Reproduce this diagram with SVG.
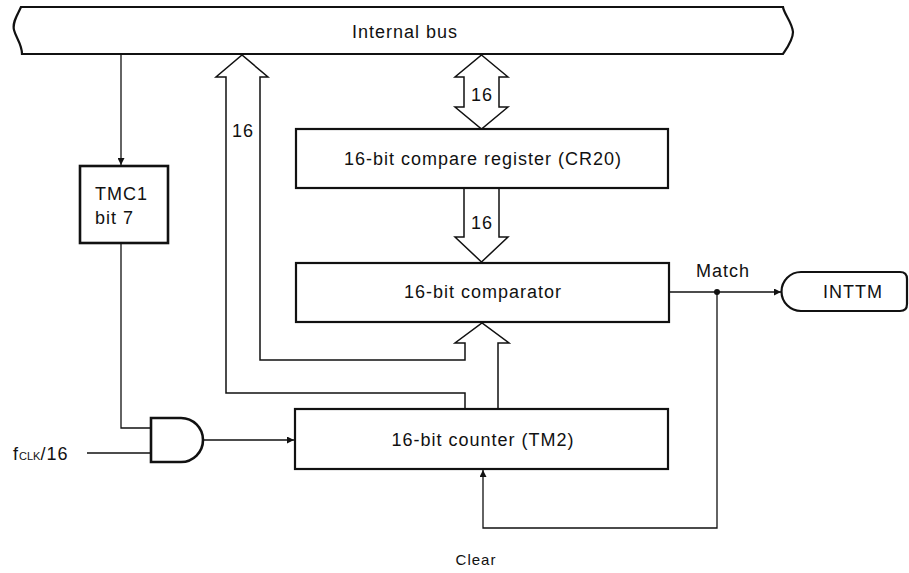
<svg xmlns="http://www.w3.org/2000/svg" width="909" height="573" viewBox="0 0 909 573">
<defs>
<style>
text{font-family:"Liberation Sans",Arial,sans-serif;font-size:18px;fill:#111;letter-spacing:1px}
.c{text-anchor:middle}
.box{fill:#fff;stroke:#111;stroke-width:2.2}
.wire{fill:none;stroke:#111;stroke-width:1.3}
.hollow{fill:#fff;stroke:#111;stroke-width:1.5;stroke-linejoin:miter}
</style>
<marker id="ah" viewBox="0 0 10 10" refX="10" refY="5" markerWidth="9" markerHeight="7" markerUnits="userSpaceOnUse" orient="auto">
<path d="M0,0 L10,5 L0,10 Z" fill="#111"/>
</marker>
</defs>

<g id="bus">
<path class="box" d="M21,7 H783 C784,14 792,22 793,32 C793,40 787,48 783,54 H22 C22,44 16,38 14,30 C12,22 18,14 21,7 Z"/>
<text class="c" x="405" y="38">Internal bus</text>
</g>

<g id="connectors">
<path class="wire" d="M121,54 V165" marker-end="url(#ah)"/>
<path class="wire" d="M121,243 V428 H151"/>
<path class="wire" d="M87,453 H151"/>
<path class="wire" d="M203,440 H294" marker-end="url(#ah)"/>
<path class="wire" d="M669,292 H781" marker-end="url(#ah)"/>
<circle cx="717" cy="292" r="3" fill="#111"/>
<path class="wire" d="M717,292 V528 H483 V470" marker-end="url(#ah)"/>
<polygon class="hollow" points="481.5,55 508,77 499,77 499,107 508,107 481.5,129 455,107 464,107 464,77 455,77"/>
<path class="hollow" d="M464,188 V237 H455 L481.5,262 L508,237 H499 V188"/>
<path class="hollow" d="M465,409 V393 H226 V77 H216 L242,55 L268,77 H260 V360 H465 V343 H455 L482,323 L509,343 H498 V409"/>
<text class="c" x="482" y="101">16</text>
<text class="c" x="482" y="229">16</text>
<text class="c" x="243" y="137">16</text>
<text class="c" x="723" y="277">Match</text>
<text class="c" x="476" y="565" style="font-size:15px">Clear</text>
<text x="13" y="460">f<tspan style="font-size:11px;letter-spacing:0">CLK</tspan>/16</text>
</g>

<g id="tmc1">
<rect class="box" x="80" y="166" width="88" height="77" style="stroke-width:2.6"/>
<text x="95" y="200">TMC1</text>
<text x="95" y="224">bit 7</text>
</g>

<g id="and-gate">
<path class="box" d="M151,418 H181 A22,22 0 0 1 181,462 H151 Z" style="stroke-width:2.6"/>
</g>

<g id="register">
<rect class="box" x="296" y="129" width="372" height="59"/>
<text class="c" x="483" y="165">16-bit compare register (CR20)</text>
</g>

<g id="comparator">
<rect class="box" x="296" y="263" width="373" height="59"/>
<text class="c" x="483" y="298">16-bit comparator</text>
</g>

<g id="counter">
<rect class="box" x="295" y="409" width="373" height="60"/>
<text class="c" x="483" y="446">16-bit counter (TM2)</text>
</g>

<g id="inttm">
<path class="box" d="M801,272 H900 Q907,272 907,279 V304 Q907,311 900,311 H801 A19.5,19.5 0 0 1 801,272 Z"/>
<text class="c" x="853" y="298">INTTM</text>
</g>
</svg>
